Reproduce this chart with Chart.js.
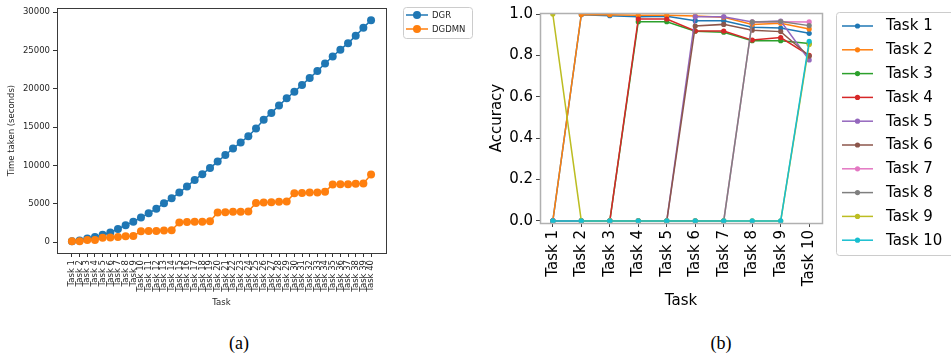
<!DOCTYPE html>
<html><head><meta charset="utf-8">
<script src="https://cdn.jsdelivr.net/npm/chart.js@4/dist/chart.umd.min.js"></script>
<style>
html,body{margin:0;padding:0;background:#fff;width:951px;height:354px;overflow:hidden;}
#wa{position:absolute;left:0;top:0;width:480px;height:320px;}
#wb{position:absolute;left:480px;top:0;width:471px;height:320px;}
.cap{position:absolute;top:333px;line-height:20px;font-family:"Liberation Serif","Times New Roman",serif;font-size:18px;color:#000;transform:translateX(-50%);white-space:nowrap;}
</style></head><body>
<div id="wa"><canvas id="ca" width="480" height="320"></canvas></div>
<div id="wb"><canvas id="cb" width="471" height="320"></canvas></div>
<div class="cap" style="left:239px">(a)</div>
<div class="cap" style="left:721px">(b)</div>
<script>
// ---------- data: chart (a) ----------
const tasksA = ['Task 1','Task 2','Task 3','Task 4','Task 5','Task 6','Task 7','Task 8','Task 9','Task 10',
  'Task 11','Task 12','Task 13','Task 14','Task 15','Task 16','Task 17','Task 18','Task 19','Task 20',
  'Task 21','Task 22','Task 23','Task 24','Task 25','Task 26','Task 27','Task 28','Task 29','Task 30',
  'Task 31','Task 32','Task 33','Task 34','Task 35','Task 36','Task 37','Task 38','Task 39','Task 40'];
const dgr = [100,200,470,650,950,1250,1700,2200,2650,3200,3750,4350,5050,5700,6450,7250,8100,8850,9650,10500,
  11350,12200,13000,13800,14800,15950,16850,17800,18750,19600,20500,21400,22300,23300,24200,25100,25950,26900,27950,28950];
const dgdmn = [100,100,250,250,550,600,650,750,800,1400,1450,1450,1500,1550,2550,2600,2650,2650,2700,3850,
  3900,3950,3950,4000,5100,5150,5200,5250,5300,6350,6400,6450,6450,6550,7500,7550,7550,7600,7650,8800];
const seriesNamesA = ['DGR','DGDMN'];
const yTicksA = [0,5000,10000,15000,20000,25000,30000];

// ---------- data: chart (b) ----------
const tasksB = ['Task 1','Task 2','Task 3','Task 4','Task 5','Task 6','Task 7','Task 8','Task 9','Task 10'];
const accT1  = [0, 0.997, 0.992, 0.987, 0.989, 0.968, 0.968, 0.936, 0.932, 0.907];
const accT2  = [0, 0.998, 0.997, 0.994, 0.994, 0.990, 0.984, 0.950, 0.955, 0.928];
const accT3  = [0, 0, 0, 0.963, 0.963, 0.917, 0.912, 0.871, 0.871, 0.857];
const accT4  = [0, 0, 0, 0.976, 0.976, 0.918, 0.918, 0.874, 0.886, 0.800];
const accT5  = [0, 0, 0, 0, 0, 0.987, 0.987, 0.961, 0.966, 0.778];
const accT6  = [0, 0, 0, 0, 0, 0.942, 0.950, 0.922, 0.915, 0.797];
const accT7  = [0, 0, 0, 0, 0, 0, 0, 0.962, 0.963, 0.962];
const accT8  = [0, 0, 0, 0, 0, 0, 0, 0.962, 0.964, 0.944];
const accT9  = [1.0, 0, 0, 0, 0, 0, 0, 0, 0, 0.853];
const accT10 = [0, 0, 0, 0, 0, 0, 0, 0, 0, 0.868];
const seriesNamesB = ['Task 1','Task 2','Task 3','Task 4','Task 5','Task 6','Task 7','Task 8','Task 9','Task 10'];
const yTicksB = [0, 0.2, 0.4, 0.6, 0.8, 1.0];

const tab10 = ['#1f77b4','#ff7f0e','#2ca02c','#d62728','#9467bd','#8c564b','#e377c2','#7f7f7f','#bcbd22','#17becf'];

// ---------- plugins ----------
const framePlugin = {
  id: 'mplFrame',
  afterDatasetsDraw(chart, args, o) {
    const {ctx, chartArea: a} = chart;
    ctx.save();
    ctx.strokeStyle = o.color; ctx.lineWidth = o.width;
    const h = o.width % 2 ? 0.5 : 0;
    ctx.strokeRect(Math.round(a.left) + h, Math.round(a.top) + h, Math.round(a.right - a.left), Math.round(a.bottom - a.top));
    ctx.restore();
  }
};
function rr(ctx, x, y, w, h, r) {
  ctx.beginPath();
  ctx.moveTo(x + r, y);
  ctx.arcTo(x + w, y, x + w, y + h, r);
  ctx.arcTo(x + w, y + h, x, y + h, r);
  ctx.arcTo(x, y + h, x, y, r);
  ctx.arcTo(x, y, x + w, y, r);
  ctx.closePath();
}
const legendPlugin = {
  id: 'mplLegend',
  afterDraw(chart, args, o) {
    const ctx = chart.ctx;
    ctx.save();
    rr(ctx, o.fx + 0.5, o.fy + 0.5, o.fw, o.fh, 3);
    ctx.fillStyle = 'rgba(255,255,255,0.8)'; ctx.fill();
    ctx.strokeStyle = '#cccccc'; ctx.lineWidth = 1; ctx.stroke();
    ctx.font = o.font; ctx.textBaseline = 'middle'; ctx.textAlign = 'left';
    chart.data.datasets.forEach((ds, i) => {
      const y = o.y0 + i * o.dy;
      ctx.strokeStyle = ds.borderColor; ctx.lineWidth = o.lw;
      ctx.beginPath(); ctx.moveTo(o.lx0, y); ctx.lineTo(o.lx1, y); ctx.stroke();
      ctx.fillStyle = ds.borderColor;
      ctx.beginPath(); ctx.arc((o.lx0 + o.lx1) / 2, y, o.r, 0, Math.PI * 2); ctx.fill();
      ctx.fillStyle = o.textColor;
      ctx.fillText(ds.label, o.tx, y + 0.5);
    });
    ctx.restore();
  }
};

// ---------- chart (a) ----------
const fontA = {family: 'DejaVu Sans', size: 8.5};
new Chart(document.getElementById('ca'), {
  type: 'line',
  data: {
    datasets: [dgr, dgdmn].map((vals, k) => ({
      label: seriesNamesA[k],
      data: vals.map((v, i) => ({x: i, y: v})),
      borderColor: tab10[k], backgroundColor: tab10[k],
      pointBackgroundColor: tab10[k], pointBorderColor: tab10[k],
      borderWidth: 1.5, pointRadius: 4, pointBorderWidth: 0, pointHoverRadius: 4,
      tension: 0, fill: false, order: 2 - k
    }))
  },
  options: {
    responsive: false, animation: false, events: [],
    layout: {padding: {left: 0, right: 94, top: 8, bottom: 0}},
    plugins: {
      legend: {display: false}, tooltip: {enabled: false},
      mplFrame: {color: '#3a3a3a', width: 1},
      mplLegend: {fx: 403, fy: 7, fw: 69, fh: 31, y0: 15, dy: 14, lx0: 406, lx1: 428, r: 4, lw: 1.5,
        tx: 432, font: '8.5px "DejaVu Sans"', textColor: '#262626'}
    },
    scales: {
      x: {
        type: 'linear', min: -1.95, max: 40.95,
        afterBuildTicks: s => { s.ticks = tasksA.map((_, i) => ({value: i})); },
        afterFit: s => { s.height = 67; },
        grid: {display: true, drawOnChartArea: false, drawTicks: true, tickLength: 4, color: '#333', tickWidth: 1},
        border: {display: false},
        ticks: {autoSkip: false, minRotation: 90, maxRotation: 90, padding: 3, color: '#262626', font: fontA,
          callback: v => tasksA[v]},
        title: {display: true, text: 'Task', color: '#262626', font: fontA, padding: {top: 0, bottom: 12}}
      },
      y: {
        type: 'linear', min: -1430, max: 30520,
        afterBuildTicks: s => { s.ticks = yTicksA.map(v => ({value: v})); },
        afterFit: s => { s.width = 57; },
        grid: {display: true, drawOnChartArea: false, drawTicks: true, tickLength: 4, color: '#333', tickWidth: 1},
        border: {display: false},
        ticks: {padding: 3, color: '#262626', font: fontA, callback: v => String(v)},
        title: {display: true, text: 'Time taken (seconds)', color: '#262626', font: fontA, padding: {top: 7, bottom: 0}}
      }
    }
  },
  plugins: [framePlugin, legendPlugin]
});

// ---------- chart (b) ----------
const fontB = {family: 'DejaVu Sans', size: 15};
const seriesB = [accT1, accT2, accT3, accT4, accT5, accT6, accT7, accT8, accT9, accT10];
new Chart(document.getElementById('cb'), {
  type: 'line',
  data: {
    datasets: seriesB.map((vals, k) => ({
      label: seriesNamesB[k],
      data: vals.map((v, i) => ({x: i, y: v})),
      borderColor: tab10[k], backgroundColor: tab10[k],
      pointBackgroundColor: tab10[k], pointBorderColor: tab10[k],
      borderWidth: 1.5, pointRadius: 2.6, pointBorderWidth: 0, pointHoverRadius: 2.6,
      tension: 0, fill: false, order: 10 - k
    }))
  },
  options: {
    responsive: false, animation: false, events: [],
    layout: {padding: {left: 0, right: 129, top: 13, bottom: 0}},
    plugins: {
      legend: {display: false}, tooltip: {enabled: false},
      mplFrame: {color: '#b0b0b0', width: 1.5},
      mplLegend: {fx: 356, fy: 12, fw: 130, fh: 243, y0: 26, dy: 23.8, lx0: 362, lx1: 393, r: 2.6, lw: 1.5,
        tx: 406, font: '15px "DejaVu Sans"', textColor: '#000'}
    },
    scales: {
      x: {
        type: 'linear', min: -0.45, max: 9.45,
        afterBuildTicks: s => { s.ticks = tasksB.map((_, i) => ({value: i})); },
        afterFit: s => { s.height = 97; },
        grid: {display: true, drawOnChartArea: false, drawTicks: true, tickLength: 4, color: '#444', tickWidth: 1},
        border: {display: false},
        ticks: {autoSkip: false, minRotation: 90, maxRotation: 90, padding: 3, color: '#000', font: fontB,
          callback: v => tasksB[v]},
        title: {display: true, text: 'Task', color: '#000', font: fontB, padding: {top: 0, bottom: 10}}
      },
      y: {
        type: 'linear', min: -0.01, max: 1.005,
        afterBuildTicks: s => { s.ticks = yTicksB.map(v => ({value: v})); },
        afterFit: s => { s.width = 60; },
        grid: {display: true, drawOnChartArea: false, drawTicks: true, tickLength: 4, color: '#444', tickWidth: 1},
        border: {display: false},
        ticks: {padding: 3, color: '#000', font: fontB, callback: v => v.toFixed(1)},
        title: {display: true, text: 'Accuracy', color: '#000', font: fontB, padding: {top: 8, bottom: 0}}
      }
    }
  },
  plugins: [framePlugin, legendPlugin]
});
</script>
</body></html>
